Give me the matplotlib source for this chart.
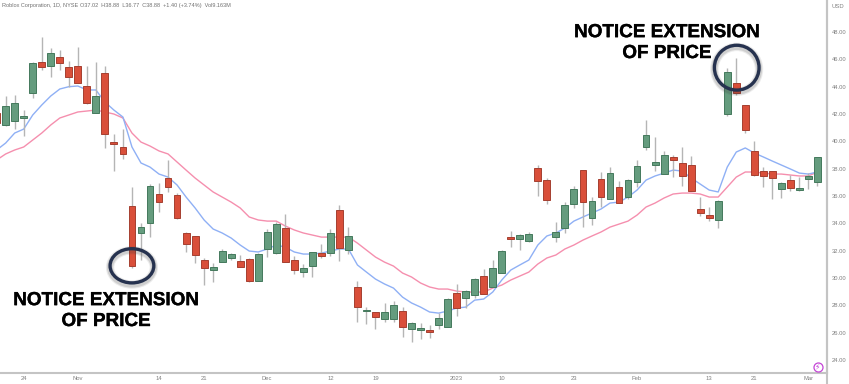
#!/usr/bin/env python3
"""Roblox daily candles with two moving averages and two callouts."""

import matplotlib
matplotlib.use("Agg")
import matplotlib.patheffects as pe
import matplotlib.pyplot as plt
import numpy as np
from matplotlib.patches import Ellipse

# bars are numbered from the 24 Oct session (0), the first three are before it
first_bar = -3
opens = [42.07, 41.20, 41.49, 41.71, 43.54, 45.80, 45.51, 46.17, 45.44, 45.51, 44.05, 42.07, 45.00, 39.95, 39.59,
         35.27, 33.30, 34.03, 36.15, 37.32, 36.08, 33.30, 33.08, 31.32, 30.59, 31.17, 31.47, 31.25, 31.39, 29.78,
         32.13, 31.83, 33.66, 31.32, 30.44, 30.88, 31.83, 31.83, 34.98, 32.05, 29.35, 27.56, 27.52, 27.00, 27.00,
         27.59, 26.27, 26.20, 26.17, 26.57, 26.42, 28.91, 28.54, 28.76, 30.15, 29.35, 30.37, 33.00, 32.86, 32.71,
         38.05, 37.17, 33.00, 33.66, 35.42, 37.90, 34.39, 37.25, 35.78, 36.66, 35.93, 37.03, 39.59, 38.27, 37.61,
         38.86, 38.42, 38.27, 35.05, 34.61, 34.25, 42.00, 44.27, 42.66, 39.30, 37.83, 37.83, 36.51, 37.17, 36.44,
         37.25, 37.02]
highs = [42.29, 43.32, 43.39, 42.29, 45.80, 47.63, 46.83, 46.68, 45.88, 46.90, 45.51, 45.80, 45.51, 40.54, 40.90,
         36.66, 34.03, 36.88, 36.95, 38.64, 36.22, 33.37, 33.08, 31.47, 31.10, 32.13, 31.83, 31.69, 31.47, 31.83,
         33.59, 34.10, 34.69, 31.61, 31.03, 31.91, 32.49, 33.59, 35.34, 33.73, 29.78, 27.88, 27.52, 28.18, 28.32,
         27.88, 26.79, 26.71, 26.57, 27.44, 28.54, 29.57, 29.13, 30.00, 30.66, 31.32, 32.05, 33.44, 33.22, 33.37,
         38.27, 37.32, 34.10, 35.56, 36.73, 37.90, 35.93, 37.76, 38.12, 37.10, 37.25, 38.64, 41.56, 40.32, 39.30,
         39.00, 39.59, 38.93, 35.93, 35.20, 35.71, 45.37, 46.10, 42.66, 40.03, 38.12, 37.83, 37.03, 37.54, 37.39,
         37.68, 38.88]
lows = [40.97, 41.09, 40.90, 40.39, 43.17, 45.22, 44.71, 45.22, 43.98, 44.27, 42.73, 42.07, 39.52, 37.83, 38.71,
        30.74, 31.32, 33.00, 34.83, 36.30, 34.32, 31.91, 31.10, 29.49, 29.71, 31.17, 31.32, 30.81, 29.71, 29.78,
        31.54, 31.76, 31.17, 30.30, 30.08, 30.08, 31.47, 31.61, 31.25, 31.76, 26.79, 26.64, 26.27, 26.79, 26.79,
        25.69, 25.32, 25.54, 25.62, 26.27, 26.42, 27.23, 27.81, 28.54, 28.83, 29.35, 30.37, 32.27, 32.05, 32.64,
        36.00, 35.42, 32.64, 33.30, 35.13, 33.73, 33.88, 35.20, 35.78, 35.49, 35.78, 36.66, 39.37, 37.83, 37.61,
        37.39, 36.73, 36.37, 34.54, 34.17, 33.66, 41.85, 43.39, 40.61, 37.47, 36.66, 35.78, 35.86, 36.37, 36.37,
        36.51, 36.77]
closes = [41.34, 42.59, 42.81, 41.82, 45.73, 45.44, 46.46, 45.73, 44.71, 44.27, 42.81, 43.32, 40.54, 39.81, 39.08,
          30.88, 33.73, 36.73, 35.56, 36.66, 34.39, 32.49, 31.69, 30.74, 30.81, 31.98, 31.76, 30.81, 29.78, 31.76,
          33.37, 33.95, 31.17, 30.59, 30.74, 31.91, 31.61, 33.30, 32.20, 33.08, 27.88, 27.63, 27.15, 27.52, 28.03,
          26.42, 26.71, 26.35, 26.09, 27.08, 28.47, 27.81, 29.05, 29.93, 28.83, 30.74, 31.98, 32.86, 33.15, 33.22,
          37.10, 35.71, 33.37, 35.34, 36.51, 35.56, 35.64, 35.93, 37.68, 35.49, 37.17, 38.20, 40.47, 38.49, 39.00,
          38.64, 37.47, 36.37, 34.76, 34.39, 35.64, 45.07, 43.54, 40.83, 37.54, 37.47, 37.32, 36.95, 36.59, 36.59,
          37.47, 38.88]
ma_fast = [39.37, 39.88, 40.61, 40.90, 41.93, 42.66, 43.32, 43.83, 44.00, 44.05, 43.76, 43.76, 42.88, 42.29, 41.78,
           39.59, 38.42, 38.12, 37.61, 37.39, 36.81, 35.93, 35.13, 34.25, 33.59, 33.30, 32.93, 32.42, 31.98, 31.91,
           32.13, 32.42, 32.27, 31.91, 31.76, 31.76, 31.83, 31.98, 32.13, 32.13, 30.96, 30.44, 29.93, 29.57, 29.27,
           28.61, 28.18, 27.88, 27.52, 27.44, 27.59, 27.81, 27.88, 28.39, 28.47, 28.98, 29.86, 30.59, 30.96, 31.32,
           32.42, 33.08, 33.30, 33.66, 34.17, 34.47, 34.76, 35.05, 35.49, 35.56, 35.93, 36.44, 37.17, 37.47, 37.68,
           37.90, 37.83, 37.32, 36.88, 36.44, 36.30, 38.12, 39.22, 39.52, 39.15, 38.86, 38.56, 38.27, 37.98, 37.68,
           37.61, 37.76]
ma_slow = [38.64, 39.08, 39.37, 39.59, 40.10, 40.61, 41.20, 41.71, 41.93, 42.15, 42.22, 42.29, 42.15, 42.00, 41.71,
           40.61, 39.95, 39.66, 39.30, 39.08, 38.49, 37.90, 37.32, 36.81, 36.30, 35.93, 35.56, 35.13, 34.47, 34.25,
           34.17, 34.17, 33.81, 33.52, 33.30, 33.15, 33.00, 33.00, 33.00, 33.00, 32.56, 32.05, 31.54, 31.17, 30.88,
           30.37, 30.08, 29.64, 29.35, 29.20, 29.20, 29.05, 28.98, 28.98, 28.98, 29.27, 29.49, 29.86, 30.15, 30.44,
           31.03, 31.47, 31.69, 32.13, 32.42, 32.78, 33.08, 33.37, 33.73, 33.95, 34.17, 34.61, 35.20, 35.49, 35.86,
           36.15, 36.22, 36.22, 36.15, 35.93, 35.93, 36.66, 37.39, 37.76, 37.76, 37.68, 37.61, 37.61, 37.54, 37.47,
           37.47, 37.76]

price_ticks = [24, 26, 28, 30, 32, 34, 36, 38, 40, 42, 44, 46, 48]
date_ticks = [0, 6, 15, 20, 27, 34, 39, 48, 53, 61, 68, 76, 81, 87]
date_labels = ["24", "Nov", "14", "21", "Dec", "12", "19", "2023", "10", "23", "Feb", "13", "21", "Mar"]
header_name = "Roblox Corporation, 1D, NYSE"
header_values = "O37.02  H38.88  L36.77  C38.88  +1.40 (+3.74%)  Vol9.163M"
callout = "NOTICE EXTENSION\nOF PRICE"

GREEN, GREEN_EDGE = "#659c7e", "#44795c"
RED, RED_EDGE = "#d94f3a", "#a53f30"
WICK = "#b5b5b5"
BLUE, PINK = "#8fb0f5", "#f58fae"
AXIS = "#c4c4c4"
LABEL = "#808080"
NAVY = "#26324f"
SANS = "Liberation Sans"


def draw_ring(ax, center, width, height):
    for grow, alpha in ((6.0, 0.10), (4.4, 0.16)):
        ax.add_patch(Ellipse((center[0], center[1] - 0.12), width, height, fill=False,
                             ec="#404040", lw=grow, alpha=alpha, zorder=5))
    ax.add_patch(Ellipse(center, width, height, fill=False, ec=NAVY, lw=2.4, zorder=6))


def main():
    bars = np.arange(first_bar, first_bar + len(opens))
    o, h, l, c = map(np.array, (opens, highs, lows, closes))
    up = c >= o

    fig = plt.figure(figsize=(8.49, 3.84), dpi=100)
    ax = fig.add_axes([0, 11 / 384, 827 / 849, 373 / 384])
    ax.set_xlim(-2.63, 89.06)
    ax.set_ylim(23.06, 50.34)

    ax.plot(bars, ma_slow, color=PINK, lw=1.0, zorder=2)
    ax.plot(bars, ma_fast, color=BLUE, lw=1.0, zorder=2)
    ax.vlines(bars, l, h, color=WICK, lw=1.0, zorder=3)
    ax.bar(bars, np.maximum(np.abs(c - o), 0.08), bottom=np.minimum(o, c), width=0.76,
           color=np.where(up, GREEN, RED), edgecolor=np.where(up, GREEN_EDGE, RED_EDGE), lw=0.7, zorder=4)

    draw_ring(ax, (12.0, 30.90), 4.85, 2.5)
    draw_ring(ax, (79.05, 45.39), 4.95, 3.28)
    for x, y in ((9.12, 27.59), (71.3, 47.19)):
        ax.text(x, y, callout, ha="center", va="center", fontsize=13.6, fontweight="bold",
                family=SANS, color="black", linespacing=1.3, zorder=7,
                path_effects=[pe.withStroke(linewidth=0.25, foreground="black")])

    ax.spines[["top", "left"]].set_visible(False)
    ax.spines[["right", "bottom"]].set_color(AXIS)
    ax.spines[["right", "bottom"]].set_linewidth(1.5)
    ax.yaxis.tick_right()
    ax.set_yticks(price_ticks, [f"{p:.2f}" for p in price_ticks], family=SANS)
    ax.set_xticks(date_ticks, date_labels, family=SANS)
    ax.tick_params(length=0, labelsize=4.2, labelcolor=LABEL, pad=2.5)
    ax.tick_params(axis="y", pad=3.5)
    fig.add_artist(plt.Line2D([827 / 849] * 2, [0, 1], color=AXIS, lw=1.5))

    fig.text(832 / 849, 1 - 6 / 384, "USD", fontsize=4.2, family=SANS, color=LABEL, va="center")
    fig.text(2 / 849, 1 - 6 / 384, header_name, fontsize=4.0, family=SANS, color="#707070", va="center")
    fig.text(80 / 849, 1 - 6 / 384, header_values, fontsize=4.0, family=SANS, color="#707070", va="center")

    # lightning badge, bottom right of the pane
    ax.plot([817.5 / 827], [6 / 373], "o", transform=ax.transAxes, ms=6.5, mfc="white", mec="#c445d6", mew=0.9, zorder=7)
    ax.text(817.5 / 827, 6 / 373, "\u26a1", transform=ax.transAxes, ha="center", va="center",
            fontsize=5.5, color="#c445d6", zorder=8)

    fig.savefig("out.png", dpi=100)
    plt.close(fig)


if __name__ == "__main__":
    main()
